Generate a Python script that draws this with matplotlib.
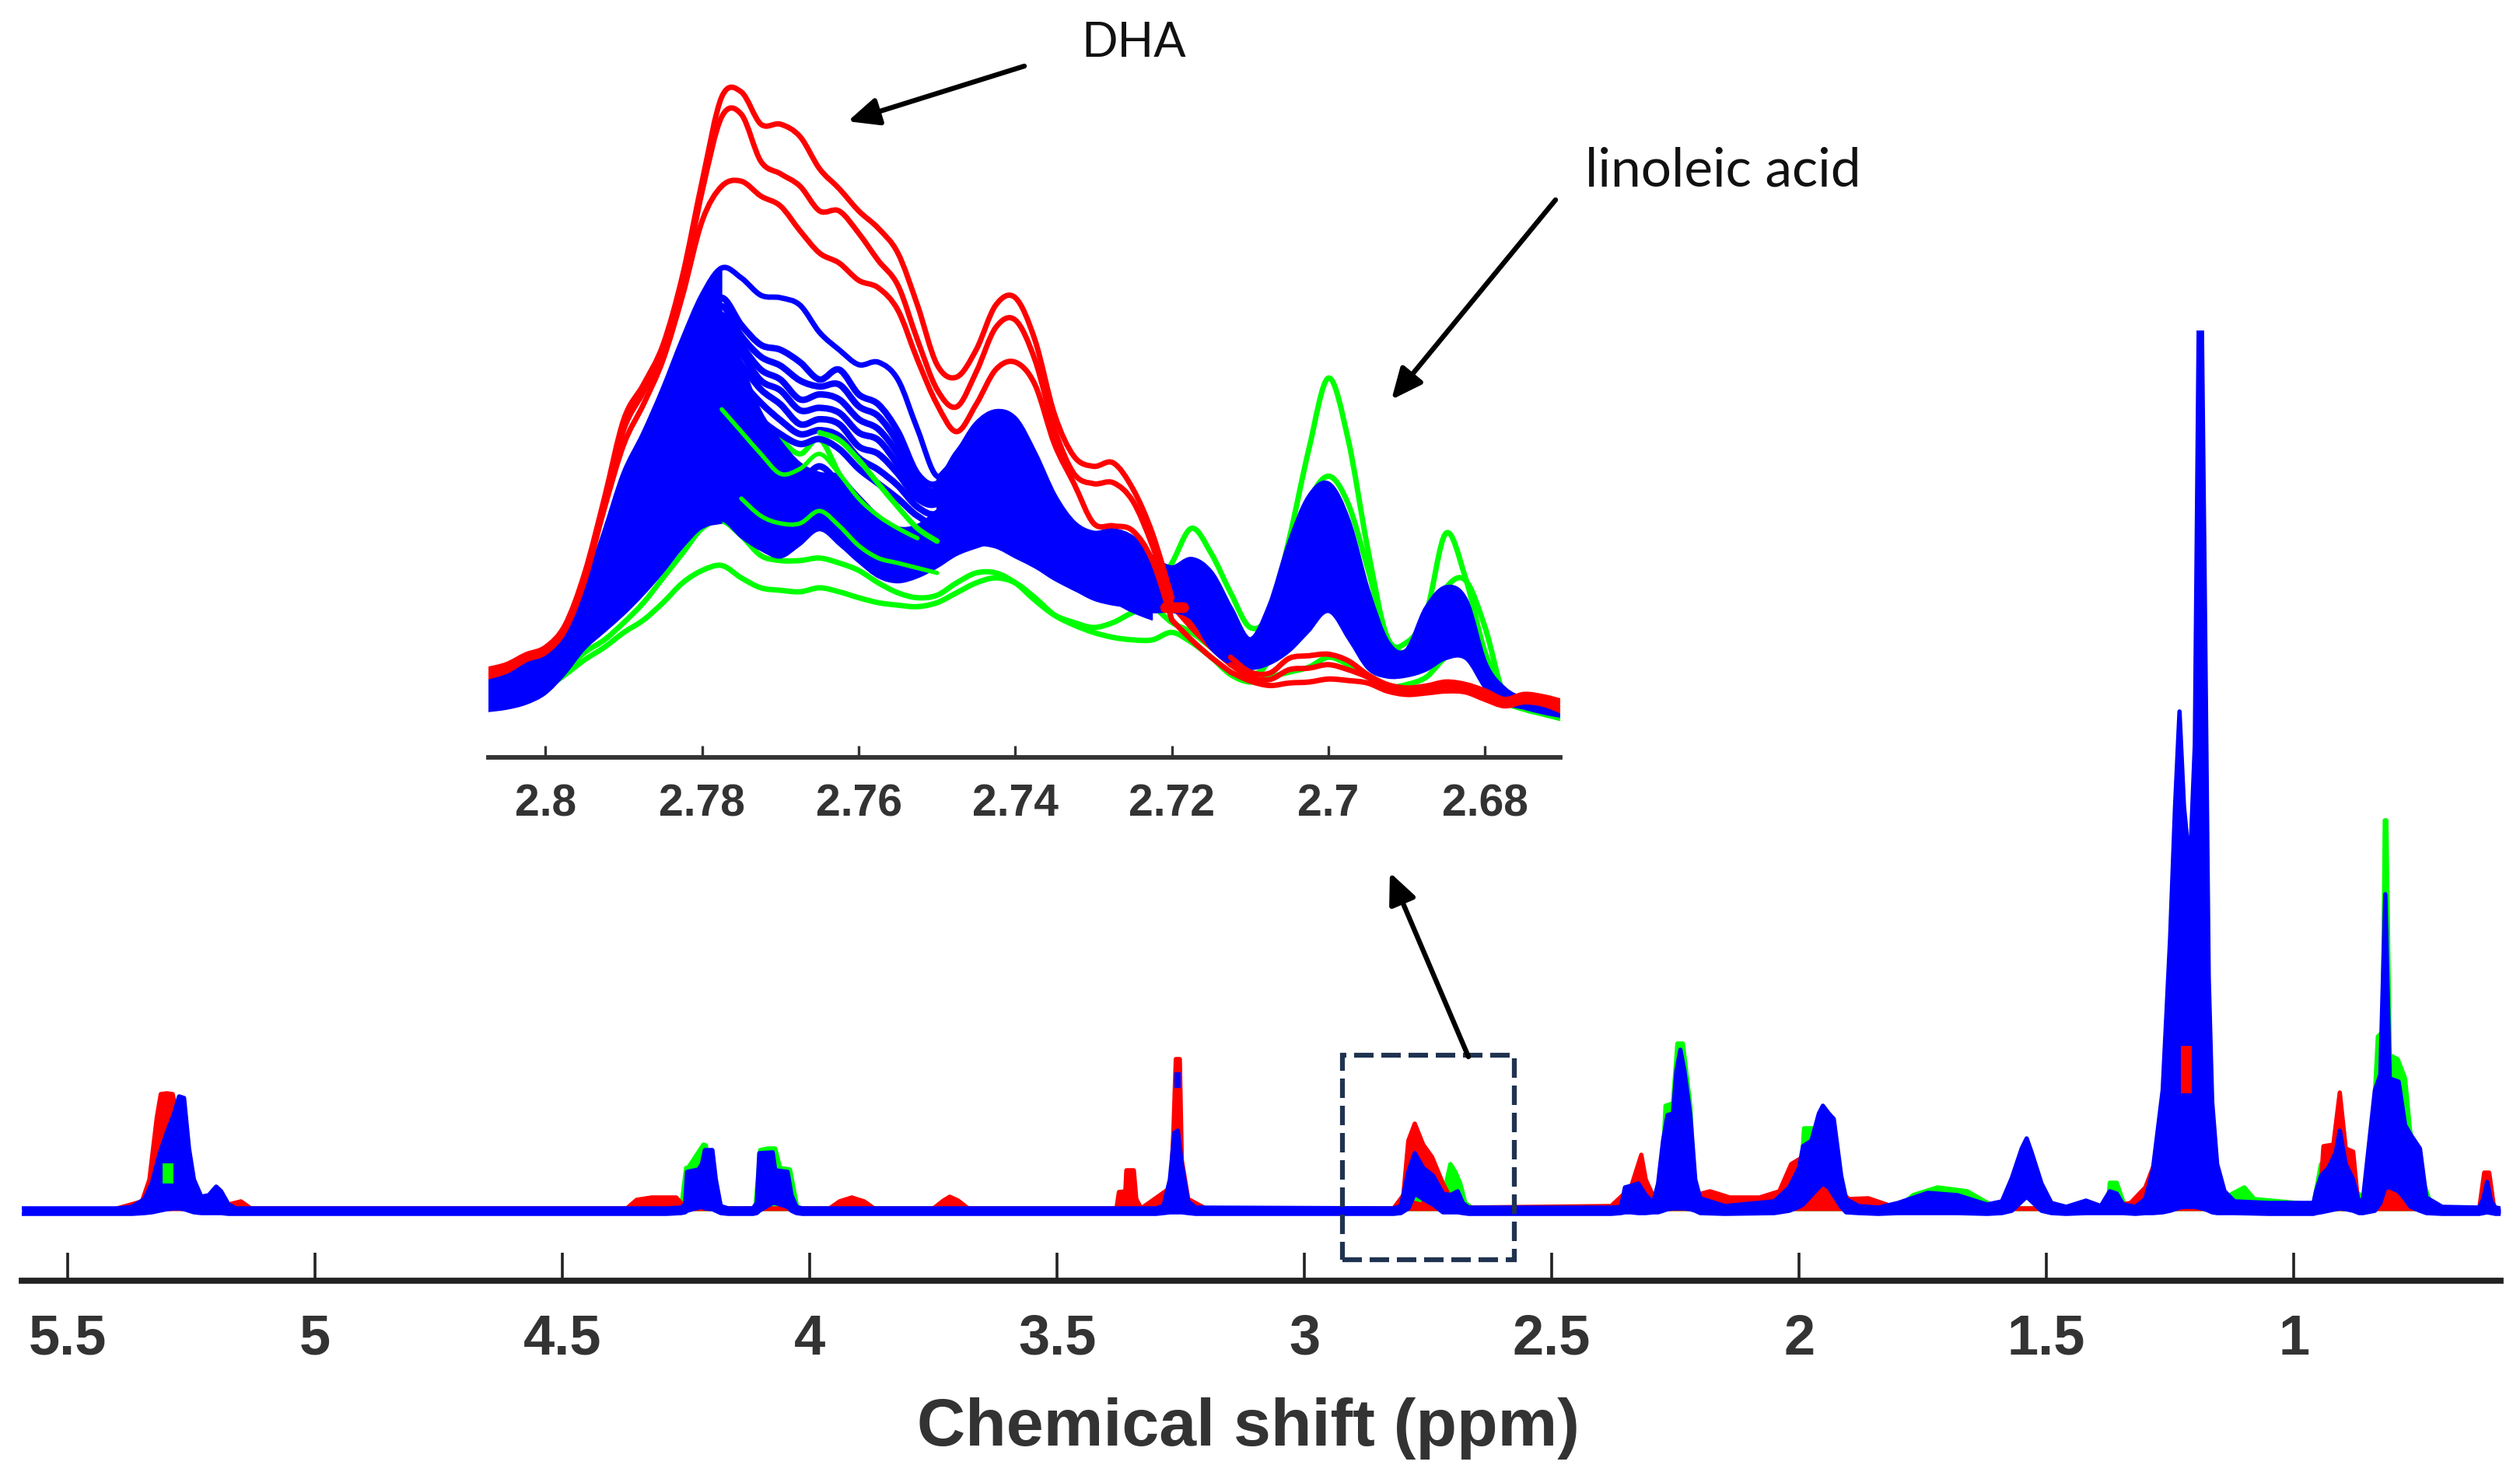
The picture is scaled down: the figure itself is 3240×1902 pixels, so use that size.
import matplotlib
matplotlib.use("Agg")
import matplotlib.pyplot as plt
from matplotlib.patches import PathPatch, Rectangle
from matplotlib.path import Path

W, H = 3240, 1902

# Inset (2.67 - 2.81 ppm), heights
in_ppm = [2.8075, 2.805, 2.8025, 2.8, 2.7975, 2.795, 2.7925, 2.79, 2.7875, 2.785,
          2.7825, 2.78, 2.7775, 2.775, 2.7725, 2.77, 2.7675, 2.765, 2.7625, 2.76,
          2.7575, 2.755, 2.7525, 2.75, 2.7475, 2.745, 2.7425, 2.74, 2.7375, 2.735,
          2.7325, 2.73, 2.7275, 2.725, 2.7225, 2.72, 2.7175, 2.715, 2.7125, 2.71,
          2.7075, 2.705, 2.7025, 2.7, 2.6975, 2.695, 2.6925, 2.69, 2.6875, 2.685,
          2.6825, 2.68, 2.6775, 2.675, 2.6725, 2.67]
in_ticks = [2.8, 2.78, 2.76, 2.74, 2.72, 2.7, 2.68]
in_ticklabels = ["2.8", "2.78", "2.76", "2.74", "2.72", "2.7", "2.68"]

red_1 = [177, 187, 207, 222, 267, 372, 522, 682, 752, 832, 972, 1162, 1332, 1342, 1277, 1277, 1252, 1187, 1147, 1102,
         1067, 1017, 912, 792, 767, 822, 912, 927, 842, 692, 607, 587, 594, 542, 452, 322, 277, 237, 202, 172,
         170, 200, 205, 208, 195, 167, 147, 140, 144, 152, 147, 134, 117, 127, 122, 112]
red_2 = [172, 182, 202, 217, 262, 367, 512, 662, 737, 817, 952, 1142, 1292, 1297, 1202, 1177, 1152, 1102, 1102, 1057,
         1002, 952, 842, 742, 707, 777, 867, 882, 802, 662, 572, 552, 554, 517, 427, 307, 262, 222, 187, 162,
         157, 177, 180, 187, 177, 162, 142, 134, 137, 144, 140, 127, 112, 120, 114, 102]
red_3 = [162, 174, 197, 212, 257, 357, 502, 632, 712, 802, 932, 1082, 1152, 1162, 1132, 1112, 1062, 1017, 997, 962,
         947, 902, 802, 712, 657, 712, 782, 797, 752, 632, 552, 472, 467, 457, 397, 277, 237, 202, 172, 154,
         145, 150, 152, 158, 155, 150, 134, 127, 130, 134, 132, 117, 104, 112, 107, 92]
red_dash_ppm = [2.7208, 2.7185]
red_dash_h = [302, 302]

green_1 = [117, 122, 137, 152, 187, 232, 302, 402, 482, 572, 642, 712, 782, 752, 682, 642, 612, 642, 572, 512,
           452, 402, 402, 412, 442, 472, 492, 502, 452, 402, 362, 342, 322, 312, 332, 392, 462, 412, 332, 262,
           292, 442, 622, 765, 642, 422, 242, 232, 292, 452, 362, 212, 132, 107, 92, 82]
green_2 = [107, 117, 132, 147, 177, 212, 237, 272, 312, 362, 412, 462, 477, 447, 407, 397, 397, 402, 392, 377,
           352, 332, 322, 327, 352, 372, 372, 352, 317, 287, 272, 262, 272, 292, 302, 272, 252, 222, 192, 167,
           202, 362, 512, 567, 512, 382, 242, 212, 262, 342, 357, 262, 122, 102, 92, 82]
green_3 = [102, 112, 127, 140, 167, 197, 222, 252, 277, 312, 352, 377, 387, 362, 342, 337, 334, 342, 334, 322,
           312, 307, 304, 312, 332, 352, 362, 352, 322, 287, 267, 252, 242, 237, 237, 252, 232, 202, 167, 152,
           162, 172, 182, 202, 187, 162, 142, 147, 162, 202, 212, 152, 112, 97, 87, 77]
# green streaks that show through the blue
green_streak_1 = [702, 657, 612, 572, 582, 612, 572, 522, 487, 462, 442]
green_streak_2 = [522, 487, 472, 472, 497, 467, 427, 402, 392, 382, 372]
green_streak_3 = [655, 640, 600, 552, 505, 462, 436]

blue_top = [157, 167, 192, 217, 262, 342, 452, 572, 652, 742, 842, 932, 987, 967, 932, 927, 912, 857, 822, 792,
            797, 762, 662, 567, 612, 672, 697, 682, 612, 527, 472, 452, 457, 442, 402, 382, 399, 372, 300, 237,
            305, 430, 524, 551, 477, 336, 232, 215, 300, 342, 317, 189, 137, 117, 112, 110]
# lower edge of the solid flank, left side and right side
blue_low_left = [92, 97, 107, 127, 167, 217, 252, 287, 327, 372, 422, 462, 472]
blue_low_right = [402, 417, 427, 422, 402, 382, 357, 337, 317, 307, 302, 292, 292, 277, 217, 187, 177, 187, 212, 252,
                  292, 237, 177, 160, 162, 174, 197, 197, 137, 107, 97, 87, 80]
# upper edge of the solid part under the stripes (2.785 - 2.7225 ppm)
blue_solid_top = [742, 842, 880, 900, 800, 700, 640, 595, 575, 570, 530, 490, 465, 470, 500, 540, 570, 585, 560, 510, 460, 430, 420, 405, 375, 340]
# separate blue spectra through the striped middle part (2.785 - 2.7225 ppm)
blue_2 = [702, 792, 882, 927, 872, 832, 822, 797, 762, 782, 732, 712, 657, 572, 552, 612, 657, 682, 632, 552, 482, 452, 442, 432, 402, 362]
blue_3 = [672, 762, 842, 892, 832, 782, 762, 722, 732, 722, 682, 662, 612, 542, 532, 592, 632, 652, 602, 532, 472, 442, 427, 412, 382, 342]
blue_4 = [632, 722, 802, 847, 792, 742, 712, 672, 682, 672, 627, 612, 572, 522, 512, 562, 602, 617, 572, 512, 457, 422, 412, 397, 367, 332]
blue_5 = [602, 682, 752, 792, 732, 682, 652, 632, 642, 622, 582, 552, 522, 487, 472, 522, 562, 582, 542, 492, 442, 402, 392, 377, 352, 317]
blue_6 = [552, 612, 662, 702, 632, 582, 562, 557, 587, 552, 512, 472, 452, 437, 437, 482, 522, 532, 502, 452, 412, 382, 372, 357, 332, 307]
blue_9 = [422, 452, 462, 477, 442, 417, 402, 427, 457, 427, 392, 362, 352, 362, 382, 407, 422, 432, 417, 392, 362, 337, 327, 312, 292, 277]
blue_10 = [690, 775, 862, 910, 850, 808, 790, 760, 748, 752, 708, 688, 634, 556, 540, 602, 645, 668, 618, 542, 478, 448, 436, 424, 392, 352]
blue_11 = [650, 742, 820, 870, 815, 760, 740, 700, 705, 695, 655, 640, 590, 530, 522, 577, 618, 635, 588, 522, 465, 432, 420, 405, 375, 337]
blue_12 = [618, 700, 775, 820, 760, 715, 680, 652, 660, 648, 604, 580, 548, 505, 492, 542, 582, 600, 558, 502, 450, 412, 402, 387, 360, 325]

# Full spectrum
main_ticks = [5.5, 5, 4.5, 4, 3.5, 3, 2.5, 2, 1.5, 1]
main_ticklabels = ["5.5", "5", "4.5", "4", "3.5", "3", "2.5", "2", "1.5", "1"]

main_blue_ppm = [5.593, 5.4, 5.37, 5.345, 5.33, 5.315, 5.3, 5.285, 5.275, 5.265, 5.255, 5.245, 5.23, 5.215, 5.2, 5.19, 5.175, 5.16,
                 4.29, 4.26, 4.252, 4.248, 4.225, 4.218, 4.212, 4.197, 4.19, 4.18, 4.165, 4.115, 4.107, 4.102, 4.075, 4.07, 4.045, 4.037, 4.027, 4.015,
                 3.3, 3.285, 3.272, 3.263, 3.256, 3.248, 3.235, 3.22,
                 2.82, 2.805, 2.79, 2.777, 2.76, 2.74, 2.72, 2.705, 2.69, 2.68, 2.668,
                 2.38, 2.36, 2.352, 2.34, 2.325, 2.31, 2.295, 2.285, 2.275, 2.266, 2.255, 2.248, 2.24, 2.232, 2.22, 2.21, 2.2, 2.15,
                 2.05, 2.02, 2.0, 1.992, 1.975, 1.96, 1.952, 1.94, 1.93, 1.915, 1.905, 1.88, 1.84, 1.8, 1.74, 1.68, 1.62,
                 1.59, 1.57, 1.55, 1.54, 1.53, 1.51, 1.49, 1.46, 1.42, 1.39, 1.372, 1.358, 1.345, 1.32,
                 1.30, 1.285, 1.265, 1.25, 1.24, 1.231, 1.222, 1.21, 1.2, 1.192, 1.186, 1.18, 1.172, 1.165, 1.155, 1.14, 1.12,
                 1.05, 0.96, 0.955, 0.945, 0.93, 0.915, 0.907, 0.895, 0.88, 0.868, 0.86, 0.836, 0.825, 0.815, 0.806, 0.788, 0.775, 0.764, 0.745, 0.732, 0.70,
                 0.625, 0.617, 0.609, 0.601, 0.592, 0.582]
main_blue_top = [.03, .03, .05, .15, .35, .72, 1.0, 1.25, 1.47, 1.45, .8, .4, .18, .2, .31, .25, .08, .03,
                 .03, .04, .08, .5, .53, .6, .78, .78, .4, .06, .03, .03, .1, .74, .75, .52, .5, .2, .05, .03,
                 .03, .06, .4, 1.0, 1.03, .6, .12, .04,
                 .03, .06, .5, .74, .55, .45, .22, .2, .25, .1, .04,
                 .04, .05, .3, .32, .35, .2, .1, .35, .9, 1.23, 1.25, 1.8, 2.07, 1.8, 1.23, .4, .16, .06,
                 .12, .3, .55, .83, .9, 1.25, 1.35, 1.25, 1.18, .45, .15, .06, .04, .1, .23, .2, .08,
                 .12, .42, .8, .93, .75, .35, .1, .05, .13, .06, .25, .22, .08, .05,
                 .15, .52, 1.55, 3.5, 5.2, 6.42, 5.2, 4.4, 6.0, 11.5, 11.5, 8.0, 3.0, 1.4, .6, .25, .12,
                 .1, .1, .25, .45, .55, .75, 1.03, .6, .4, .11, .15, 1.55, 1.75, 4.07, 1.7, 1.66, 1.1, .98, .8, .17, .05,
                 .04, .15, .37, .12, .04, .03]
main_blue_low = [-.04, -.04, -.04, -.03, -.02, 0, .02, .03, .03, .02, 0, -.02, -.03, -.03, -.03, -.03, -.04, -.04,
                 -.04, -.03, -.02, 0, .04, .05, .03, .02, 0, -.03, -.04, -.04, -.03, 0, .1, .1, .05, 0, -.03, -.04,
                 -.04, -.03, -.02, -.02, -.02, -.02, -.03, -.04,
                 -.04, -.03, .03, .22, .15, .08, -.02, -.02, -.02, -.03, -.04,
                 -.04, -.03, -.02, -.02, -.03, -.03, -.02, -.02, 0, .02, .03, .03, .03, .03, .02, 0, -.03, -.04,
                 -.03, 0, .05, .08, .2, .3, .35, .3, .2, .05, -.02, -.03, -.04, -.03, -.03, -.03, -.04,
                 -.03, 0, .12, .18, .12, 0, -.03, -.04, -.03, -.03, -.03, -.03, -.03, -.04,
                 -.03, -.03, -.02, 0, .02, .04, .05, .05, .05, .04, .03, .02, 0, -.02, -.03, -.03, -.03,
                 -.04, -.04, -.03, -.02, 0, .02, .03, .02, 0, -.03, -.03, 0, .1, .3, .3, .25, .15, .05, 0, -.03, -.04,
                 -.04, -.03, -.02, -.03, -.04, -.04]

main_red_ppm = [5.4, 5.35, 5.335, 5.32, 5.312, 5.3, 5.288, 5.278, 5.26, 5.24, 5.2, 5.175, 5.15, 5.13,
                4.37, 4.35, 4.32, 4.27, 4.25, 3.96, 3.94, 3.915, 3.89, 3.87, 3.75, 3.73, 3.717, 3.7, 3.68,
                3.38, 3.375, 3.362, 3.36, 3.345, 3.34, 3.33, 3.27, 3.265, 3.26, 3.252, 3.248, 3.235, 3.2,
                2.82, 2.8, 2.79, 2.777, 2.76, 2.742, 2.72, 2.71, 2.69, 2.675,
                2.38, 2.34, 2.33, 2.319, 2.31, 2.29, 2.21, 2.18, 2.14, 2.08, 2.04, 2.016, 1.99, 1.95, 1.93, 1.9, 1.86, 1.8,
                1.4, 1.33, 1.3, 1.27, 1.25, 1.22, 1.19, 1.17, 1.15, 1.1,
                0.96, 0.945, 0.94, 0.92, 0.907, 0.895, 0.88, 0.87, 0.85, 0.83, 0.815, 0.79, 0.77, 0.74, 0.7,
                0.625, 0.615, 0.605, 0.595]
main_red_h = [.03, .12, .4, 1.2, 1.5, 1.51, 1.5, 1.2, .6, .2, .06, .08, .12, .03,
              .03, .14, .17, .17, .03, .03, .12, .17, .12, .03, .03, .13, .18, .13, .03,
              .03, .24, .25, .52, .52, .15, .03, .3, 1.0, 1.95, 1.95, .65, .15, .03,
              .03, .2, .9, 1.12, .85, .69, .35, .23, .08, .04,
              .06, .3, .5, .72, .4, .12, .2, .25, .17, .17, .25, .6, .7, .5, .35, .15, .16, .03,
              .03, .1, .3, .8, 1.6, 2.1, 2.5, 1.5, .2, .03,
              .03, .35, .83, .85, 1.52, .8, .76, .1, .15, .35, .85, .6, .4, .1, .03,
              .03, .49, .49, .03]

main_green_ppm = [4.26, 4.25, 4.245, 4.215, 4.21, 4.2, 4.19, 4.11, 4.1, 4.085, 4.07, 4.06, 4.04, 4.025, 2.73,
                  2.72, 2.712, 2.705, 2.695, 2.685, 2.675, 2.66,
                  2.28, 2.27, 2.255, 2.246, 2.235, 2.22, 2.21, 2.0, 1.99, 1.97, 1.96, 1.95, 1.8, 1.77, 1.72, 1.66, 1.6,
                  1.38, 1.375, 1.372, 1.358, 1.34, 1.16, 1.1, 1.08, 0.96, 0.945, 0.93,
                  0.85, 0.84, 0.83, 0.82, 0.816, 0.813, 0.806, 0.79, 0.775, 0.765, 0.745, 0.72,
                  0.625, 0.61, 0.595]
main_green_h = [.03, .55, .56, .85, .84, .3, .03, .03, .78, .8, .8, .55, .53, .03, .03,
                .1, .4, .6, .5, .35, .1, .03,
                .03, 1.35, 1.38, 2.15, 2.15, 1.35, .03, .03, 1.06, 1.06, .2, .03, .03, .2, .3, .25, .03,
                .03, .1, .36, .36, .03, .1, .3, .15, .08, .6, .6,
                .1, 1.0, 2.24, 2.3, 5.02, 5.02, 2.0, 1.95, 1.7, 1.03, .5, .03,
                .03, .3, .03]

# small marks that lie on top of the blue band
spot_green_ppm = [5.298, 5.298]
spot_green_h = [.42, .54]
spot_green2_ppm = [2.775, 2.768]
spot_green2_h = [.16, .15]
spot_blue_ppm = [3.256, 3.256]
spot_blue_h = [1.62, 1.74]
spot_red_ppm = [1.218, 1.218]
spot_red_h = [1.58, 2.05]

plt.rcParams["font.family"] = ["Liberation Sans", "DejaVu Sans"]
dark = "#333333"
fig = plt.figure(figsize=(W / 100, H / 100), dpi=100, facecolor="white")


def px_axes(x0, x1, ytop, ybot):
    return fig.add_axes([x0 / W, 1 - ybot / H, (x1 - x0) / W, (ybot - ytop) / H], facecolor="none")


def curve_parts(x, y):
    # bezier segments through the read points, so the line does not look polygonal
    verts, codes = [], []
    n = len(x)
    for i in range(n - 1):
        a, b = max(i - 1, 0), min(i + 2, n - 1)
        c1 = (x[i] + (x[i + 1] - x[a]) / 6, y[i] + (y[i + 1] - y[a]) / 6)
        c2 = (x[i + 1] - (x[b] - x[i]) / 6, y[i + 1] - (y[b] - y[i]) / 6)
        verts += [c1, c2, (x[i + 1], y[i + 1])]
        codes += [Path.CURVE4] * 3
    return verts, codes


def smooth_line(ax, x, y, color, lw, z):
    verts, codes = curve_parts(x, y)
    path = Path([(x[0], y[0])] + verts, [Path.MOVETO] + codes)
    ax.add_patch(PathPatch(path, fill=False, ec=color, lw=lw, zorder=z, capstyle="round", joinstyle="round"))


def smooth_band(ax, x, low, top, color, z):
    v1, c1 = curve_parts(x, top)
    v2, c2 = curve_parts(x[::-1], low[::-1])
    verts = [(x[0], top[0])] + v1 + [(x[-1], low[-1])] + v2 + [(x[0], top[0])]
    codes = [Path.MOVETO] + c1 + [Path.LINETO] + c2 + [Path.CLOSEPOLY]
    ax.add_patch(PathPatch(Path(verts, codes), fc=color, ec=color, lw=1, zorder=z))


# Full spectrum
ax = px_axes(28, 3215, 425, 1647)
lw_main = 4
ax.fill_between(main_green_ppm, 0, main_green_h, color="#00ff00", lw=0, zorder=2)
ax.plot(main_green_ppm, main_green_h, color="#00ff00", lw=lw_main, zorder=2)
ax.fill_between(main_red_ppm, 0, main_red_h, color="#ff0000", lw=0, zorder=3)
ax.plot(main_red_ppm, main_red_h, color="#ff0000", lw=lw_main, zorder=3)
ax.fill_between(main_blue_ppm, main_blue_low, main_blue_top, color="#0000ff", lw=0, zorder=4)
ax.plot(main_blue_ppm, main_blue_top, color="#0000ff", lw=lw_main, zorder=4)
ax.plot(main_blue_ppm, main_blue_low, color="#0000ff", lw=lw_main, zorder=4)
ax.plot(spot_green_ppm, spot_green_h, color="#00ff00", lw=10, zorder=5)
ax.plot(spot_green2_ppm, spot_green2_h, color="#00ff00", lw=5, zorder=3.5)
ax.plot(spot_blue_ppm, spot_blue_h, color="#0000ff", lw=6, zorder=5)
ax.plot(spot_red_ppm, spot_red_h, color="#ff0000", lw=10, zorder=5)
ax.add_patch(Rectangle((2.923, -0.63), 2.575 - 2.923, 2.635, fill=False, ec="#1f3350", lw=4.5,
                       ls=(0, (4, 1.6)), zorder=6, clip_on=False))
ax.set_xlim(5.593, 0.582)
ax.set_ylim(-0.9, 11.32)
ax.set_yticks([])
ax.set_xticks(main_ticks)
ax.set_xticklabels(main_ticklabels, fontsize=52, fontweight="bold", color=dark)
ax.tick_params(axis="x", direction="in", length=26, width=2.6, color="#222222", pad=30)
for s in ["top", "left", "right"]:
    ax.spines[s].set_visible(False)
ax.spines["bottom"].set_linewidth(5.6)
ax.spines["bottom"].set_color("#222222")
ax.set_xlabel("Chemical shift (ppm)", fontsize=62, fontweight="bold", color=dark, labelpad=29)
ax.xaxis.label.set_x((1605 - 28) / (3215 - 28))

# Inset
ins = px_axes(628, 2006, 80, 974)
lw_in = 5
for green in [green_1, green_2, green_3]:
    smooth_line(ins, in_ppm, green, "#00ff00", lw_in, 2)
# red goes over the blue except where it dives through at 2.72 - 2.7125
for red in [red_1, red_2, red_3]:
    smooth_line(ins, in_ppm[:36], red[:36], "#ff0000", lw_in, 6)
    smooth_line(ins, in_ppm[35:39], red[35:39], "#ff0000", lw_in, 3)
    smooth_line(ins, in_ppm[38:], red[38:], "#ff0000", lw_in, 6)
smooth_line(ins, red_dash_ppm, red_dash_h, "#ff0000", 10, 6)
smooth_band(ins, in_ppm[:13], blue_low_left, blue_top[:13], "#0000ff", 4)
smooth_band(ins, in_ppm[9:35], blue_9, blue_solid_top, "#0000ff", 4)
smooth_band(ins, in_ppm[23:], blue_low_right, blue_top[23:], "#0000ff", 4)
smooth_line(ins, in_ppm, blue_top, "#0000ff", lw_in, 4)
for blue in [blue_2, blue_3, blue_4, blue_5, blue_6, blue_10, blue_11, blue_12]:
    smooth_line(ins, in_ppm[9:35], blue, "#0000ff", lw_in + 1, 4)
smooth_line(ins, in_ppm[12:23], green_streak_1, "#00ff00", lw_in - 1, 5)
smooth_line(ins, in_ppm[13:24], green_streak_2, "#00ff00", lw_in - 1, 5)
smooth_line(ins, in_ppm[17:24], green_streak_3, "#00ff00", lw_in, 5)
ins.set_xlim(2.8073, 2.6704)
ins.set_ylim(0, 1402)
ins.set_yticks([])
ins.set_xticks(in_ticks)
ins.set_xticklabels(in_ticklabels, fontsize=41, fontweight="bold", color=dark)
ins.tick_params(axis="x", direction="in", length=11, width=2.4, color=dark, pad=24)
for s in ["top", "left", "right"]:
    ins.spines[s].set_visible(False)
ins.spines["bottom"].set_linewidth(4.2)
ins.spines["bottom"].set_color(dark)

# Overlay for arrows and the two notes, in picture pixels
ov = fig.add_axes([0, 0, 1, 1], facecolor="none")
ov.set_xlim(0, W)
ov.set_ylim(H, 0)
ov.axis("off")
arrows = [((1317, 85), (1090, 156)), ((2000, 257), (1789, 514)), ((1888, 1359), (1787, 1122))]
for start, end in arrows:
    ov.annotate("", xy=end, xytext=start,
                arrowprops=dict(arrowstyle="-|>,head_length=0.8,head_width=0.36", lw=4.6, color="black",
                                shrinkA=0, shrinkB=0, mutation_scale=30))
ov.text(1390, 73, "DHA", fontsize=44, family="Lato", color="#111111", va="baseline", ha="left")
ov.text(2038, 240, "linoleic acid", fontsize=50, family="Lato", color="#111111", va="baseline", ha="left")

fig.savefig("out.png", dpi=100)
